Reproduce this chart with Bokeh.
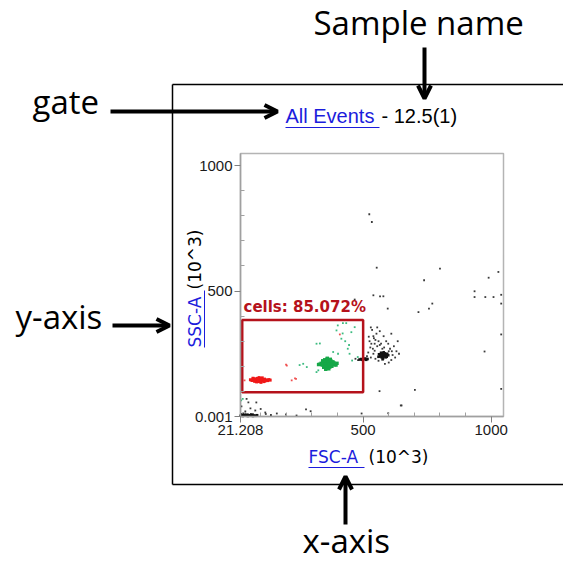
import math
from bokeh.plotting import figure
from bokeh.models import FixedTicker, Label, Arrow, OpenHead, LinearAxis, Range1d
from bokeh.embed import file_html
from bokeh.resources import INLINE

# ---------------- data ----------------
x_ticks = [21.208, 500, 1000]
x_tick_labels = ["21.208", "500", "1000"]
y_ticks = [0.001, 500, 1000]
y_tick_labels = ["0.001", "500", "1000"]
minor_ticks = [100, 200, 300, 400, 600, 700, 800, 900]

gate_name = "cells"
gate_pct = 85.072
gate_x = [28, 500]
gate_y = [97, 385]

red_core = [
    (60, 146), (66, 143), (70, 148), (74, 145), (78, 150), (80, 141), (83, 147), (85, 144),
    (87, 152), (89, 139), (90, 146), (92, 149), (93, 143), (95, 147), (96, 140), (97, 151),
    (99, 145), (100, 142), (102, 148), (104, 144), (106, 146), (108, 143), (110, 147),
    (112, 145), (115, 149), (118, 144), (122, 146), (127, 143), (132, 147), (137, 145),
    (84, 138), (94, 155), (101, 136), (106, 154), (112, 139), (88, 150), (98, 146),
    (91, 142), (103, 150), (76, 140), (116, 141), (70, 152),
]
red_sparse = [(37, 144), (202, 203), (221, 144), (234, 152), (238, 150), (199, 207), (409, 327)]

green_core = [
    (330, 208), (336, 212), (340, 205), (344, 215), (348, 209), (350, 202), (352, 218),
    (354, 207), (356, 213), (358, 200), (360, 210), (362, 220), (364, 205), (366, 214),
    (368, 199), (370, 211), (372, 216), (374, 204), (376, 209), (378, 213), (380, 207),
    (384, 211), (388, 206), (392, 209), (398, 212), (342, 222), (346, 196), (350, 226),
    (354, 194), (358, 228), (362, 193), (366, 225), (370, 197), (374, 222), (378, 200),
    (382, 218), (346, 203), (352, 215), (358, 208), (364, 203), (370, 206), (376, 215),
    (350, 210), (356, 202), (362, 215), (368, 210), (374, 203), (380, 210), (338, 210),
    (326, 207), (386, 214), (394, 205), (360, 232), (366, 190), (354, 188), (372, 228),
]
green_sparse = [
    (266, 210), (252, 205), (280, 197), (318, 177), (325, 184), (383, 257), (402, 250),
    (447, 250), (457, 223), (479, 237), (454, 336), (396, 343), (415, 310), (430, 300),
    (421, 372), (434, 372), (467, 356), (318, 290), (331, 291), (401, 363), (420, 331),
    (440, 270), (24, 64), (30, 70), (445, 285),
]

black_core = [
    (570, 240), (574, 244), (578, 238), (582, 246), (576, 250), (572, 236), (580, 242),
    (584, 240), (568, 246), (586, 248), (578, 232), (574, 252), (590, 244), (566, 240),
    (580, 256), (588, 236), (562, 248), (594, 250), (576, 228), (570, 254), (584, 252),
    (592, 238), (560, 238), (598, 244), (576, 243), (580, 247), (572, 245),
    (486, 227), (492, 229), (497, 226), (502, 228), (508, 231), (512, 226), (517, 229),
    (22, 3), (26, 5), (30, 2), (34, 6), (38, 4), (42, 3), (46, 7), (50, 2), (55, 5),
    (60, 3), (65, 6), (70, 2), (75, 4), (80, 3), (86, 5),
]
black_sparse = [
    (525, 300), (532, 290), (540, 320), (548, 305), (555, 280), (538, 270), (545, 262),
    (528, 275), (560, 300), (565, 285), (552, 330), (535, 345), (530, 355), (542, 312),
    (570, 290), (575, 270), (582, 275), (590, 300), (598, 290), (605, 270), (612, 260),
    (620, 280), (630, 260), (640, 250), (625, 235), (610, 225), (600, 215), (585, 210),
    (560, 222), (548, 230), (540, 250), (520, 255), (515, 240), (530, 235), (600, 260),
    (615, 245), (635, 300), (580, 320), (565, 340), (555, 355), (610, 330), (545, 290),
    (522, 318), (480, 225), (470, 230),
    (524, 806), (534, 775), (553, 593), (800, 589), (738, 543), (1028, 576), (990, 553),
    (935, 499), (977, 476), (1009, 476), (1039, 485), (1039, 450), (935, 476), (540, 483),
    (566, 479), (579, 479), (467, 466), (770, 450), (757, 430), (716, 416), (596, 430),
    (974, 259), (1039, 327), (1039, 110), (702, 106), (564, 101), (650, 44), (598, 13),
    (647, 44), (494, 12),
    (24, 10), (32, 12), (40, 9), (52, 8), (62, 10), (70, 9),
    (52, 56), (83, 56), (60, 32), (79, 24), (118, 16), (163, 12), (199, 8), (240, 4),
    (277, 28), (295, 21), (25, 40), (40, 20), (100, 30), (140, 6), (45, 70), (120, 10),
]

# ---------------- layout ----------------
W = H = 563
X0, X1 = 21.208, 1048.0
Y0, Y1 = 0.001, 1048.0
FL, FT, FW, FH = 240, 153, 263, 263   # inner plot box in page pixels

sx = (X1 - X0) / FW
sy = (Y1 - Y0) / FH
x_range = Range1d(X0 - FL * sx, X1 + (W - FL - FW) * sx)
y_range = Range1d(Y0 - (H - FT - FH) * sy, Y1 + FT * sy)

p = figure(width=W, height=H, min_border=0, x_range=x_range, y_range=y_range,
           x_axis_location=None, y_axis_location=None,
           output_backend="svg", toolbar_location=None, tools="")
p.background_fill_color = "white"
p.border_fill_color = "white"
p.outline_line_color = None
p.xgrid.visible = False
p.ygrid.visible = False

def px_x(px):
    return X0 + (px - FL) * sx

def px_y(py):
    return Y0 + (FT + FH - py) * sy

# inner plot box
p.quad(left=[X0], right=[X1], bottom=[Y0], top=[Y1], fill_color=None,
       line_color="#b4b4b4", line_width=1.5)

xax = LinearAxis(fixed_location=Y0, bounds=(X0, X1))
yax = LinearAxis(fixed_location=X0, bounds=(Y0, Y1))
p.add_layout(xax, "below")
p.add_layout(yax, "left")
for ax, ticks, labels in ((xax, x_ticks, x_tick_labels), (yax, y_ticks, y_tick_labels)):
    ax.ticker = FixedTicker(ticks=ticks, minor_ticks=minor_ticks)
    ax.major_label_overrides = {t: l for t, l in zip(ticks, labels)}
    ax.axis_line_color = "#a0a0a0"
    ax.axis_line_width = 1.5
    ax.major_tick_line_color = "#808080"
    ax.minor_tick_line_color = "#a0a0a0"
    ax.major_tick_out = 6
    ax.major_tick_in = 0
    ax.minor_tick_out = 0
    ax.minor_tick_in = 4
    ax.major_label_text_font = "Liberation Sans"
    ax.major_label_text_font_size = "15px"
    ax.major_label_text_color = "#1a1a1a"
    ax.major_label_standoff = 2

# events
def pts(lst, i):
    return [q[i] for q in lst]

p.scatter(pts(black_sparse, 0), pts(black_sparse, 1), size=1.8, marker="square",
          fill_color="#3a3a3a", line_color=None)
p.scatter(pts(black_core, 0), pts(black_core, 1), size=2.6, marker="square",
          fill_color="#111111", line_color=None)
p.scatter(pts(green_sparse, 0), pts(green_sparse, 1), size=1.8, marker="square",
          fill_color="#3dbb80", line_color=None)
p.scatter(pts(green_core, 0), pts(green_core, 1), size=3.4, marker="square",
          fill_color="#16a848", line_color=None)
p.scatter(pts(red_sparse, 0), pts(red_sparse, 1), size=1.8, marker="square",
          fill_color="#f05050", line_color=None)
p.scatter(pts(red_core, 0), pts(red_core, 1), size=3.0, marker="square",
          fill_color="#f01818", line_color=None)

# gate
p.quad(left=[gate_x[0]], right=[gate_x[1]], bottom=[gate_y[0]], top=[gate_y[1]],
       fill_color=None, line_color="#b5121b", line_width=2.5)

BLUE = "#1c1cdc"
SHIFT = 0.42   # renderer draws the text ~0.42em below the requested baseline

def seg(x0, y0, x1, y1, color="black", width=1.5):
    p.add_layout(Arrow(end=None, x_start=px_x(x0), y_start=px_y(y0), x_end=px_x(x1), y_end=px_y(y1),
                       line_color=color, line_width=width))

def arrow(x0, y0, x1, y1):
    p.add_layout(Arrow(end=OpenHead(size=13, line_width=4, line_color="black"),
                       x_start=px_x(x0), y_start=px_y(y0), x_end=px_x(x1), y_end=px_y(y1),
                       line_color="black", line_width=4))

def label(x, y, text, font, size, color="black", vertical=False, style="normal"):
    d = SHIFT * size
    if vertical:
        x, angle = x - d, math.pi / 2
    else:
        y, angle = y - d, 0
    p.add_layout(Label(x=px_x(x), y=px_y(y), text=text, text_font=font, text_font_size=f"{size}px",
                       text_color=color, angle=angle, text_baseline="alphabetic",
                       text_font_style=style))

label(243, 313, f"{gate_name}: {gate_pct:.3f}%", "DejaVu Sans", 15, "#b5121b", style="bold")

# panel box
seg(172, 84, 563, 84)
seg(172, 84, 172, 484)
seg(172, 484, 563, 484)

# header
label(285, 124, "All Events ", "Liberation Sans", 20, BLUE)
seg(285, 127, 379, 127, BLUE, 1)
label(381, 124, "- 12.5(1)", "Liberation Sans", 20)

# axis titles
label(308, 464, "FSC-A ", "DejaVu Sans", 17, BLUE)
seg(308, 467, 364, 467, BLUE, 1)
label(368, 464, "(10^3)", "DejaVu Sans", 17)
label(202, 347, "SSC-A ", "DejaVu Sans", 17, BLUE, vertical=True)
seg(204, 347, 204, 290, BLUE, 1)
label(202, 289, "(10^3)", "DejaVu Sans", 17, vertical=True)

# callouts
label(313, 36, "Sample name", "Open Sans", 33)
arrow(424, 47, 424, 98)
label(32, 115, "gate", "Open Sans", 33)
arrow(110, 111, 277, 111)
label(15, 330, "y-axis", "Open Sans", 33)
arrow(112, 325, 169, 325)
label(302, 554, "x-axis", "Open Sans", 33)
arrow(345, 524, 345, 476)

open("out.html", "w").write(file_html(p, INLINE))
